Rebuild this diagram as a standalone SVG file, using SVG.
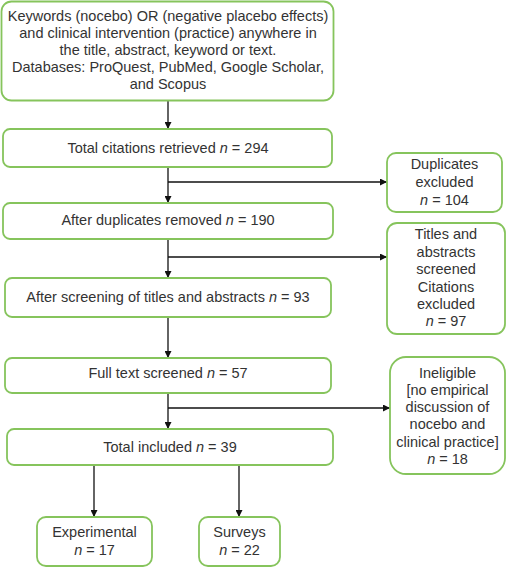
<svg xmlns="http://www.w3.org/2000/svg" width="506" height="568" viewBox="0 0 506 568">
<style>
.b{fill:#fff;stroke:#86c45c;stroke-width:1.8}
.t{font-family:"Liberation Sans",Arial,sans-serif;font-size:14.5px;fill:#333;text-anchor:middle}
.c{stroke:#111;stroke-width:1.3;fill:none;marker-end:url(#a)}
</style>
<defs><marker id="a" viewBox="0 0 10 10" refX="10" refY="5" markerWidth="7" markerHeight="7" orient="auto" markerUnits="userSpaceOnUse"><path d="M0,0L10,5L0,10z" fill="#111"/></marker></defs>
<rect width="506" height="568" fill="#fff"/>
<g id="connectors">
<path class="c" d="M168,100V129"/>
<path class="c" d="M168,167V203"/>
<path class="c" d="M168,182H387"/>
<path class="c" d="M168,239V278"/>
<path class="c" d="M168,257H387"/>
<path class="c" d="M168,317V358"/>
<path class="c" d="M168,393V429"/>
<path class="c" d="M168,408H390"/>
<path class="c" d="M94,465V517"/>
<path class="c" d="M239,465V517"/>
</g>
<g id="n1"><rect class="b" x="1.5" y="1.5" width="332" height="99" rx="10"/>
<text class="t"><tspan x="168" y="21">Keywords (nocebo) OR (negative placebo effects)</tspan><tspan x="168" y="38">and clinical intervention (practice) anywhere in</tspan><tspan x="168" y="55">the title, abstract, keyword or text.</tspan><tspan x="168" y="72">Databases: ProQuest, PubMed, Google Scholar,</tspan><tspan x="168" y="89">and Scopus</tspan></text></g>
<g id="n2"><rect class="b" x="3" y="129" width="329" height="38" rx="7"/>
<text class="t" x="168" y="153">Total citations retrieved <tspan font-style="italic">n</tspan> = 294</text></g>
<g id="n3"><rect class="b" x="387" y="153" width="115" height="59" rx="9"/>
<text class="t"><tspan x="444.5" y="169">Duplicates</tspan><tspan x="444.5" y="187">excluded</tspan><tspan x="444.5" y="205"><tspan font-style="italic">n</tspan> = 104</tspan></text></g>
<g id="n4"><rect class="b" x="3" y="203" width="330" height="36" rx="7"/>
<text class="t" x="168" y="225">After duplicates removed <tspan font-style="italic">n</tspan> = 190</text></g>
<g id="n5"><rect class="b" x="387" y="223" width="118" height="111" rx="10"/>
<text class="t"><tspan x="446" y="239">Titles and</tspan><tspan x="446" y="257">abstracts</tspan><tspan x="446" y="274">screened</tspan><tspan x="446" y="292">Citations</tspan><tspan x="446" y="309">excluded</tspan><tspan x="446" y="326"><tspan font-style="italic">n</tspan> = 97</tspan></text></g>
<g id="n6"><rect class="b" x="5" y="278" width="326" height="39" rx="7"/>
<text class="t" x="168" y="302">After screening of titles and abstracts <tspan font-style="italic">n</tspan> = 93</text></g>
<g id="n7"><rect class="b" x="5" y="358" width="326" height="35" rx="7"/>
<text class="t" x="168" y="378">Full text screened <tspan font-style="italic">n</tspan> = 57</text></g>
<g id="n8"><rect class="b" x="390" y="357" width="115" height="117" rx="16"/>
<text class="t"><tspan x="447.5" y="378">Ineligible</tspan><tspan x="447.5" y="395">[no empirical</tspan><tspan x="447.5" y="412">discussion of</tspan><tspan x="447.5" y="429">nocebo and</tspan><tspan x="447.5" y="447">clinical practice]</tspan><tspan x="447.5" y="464"><tspan font-style="italic">n</tspan> = 18</tspan></text></g>
<g id="n9"><rect class="b" x="7" y="429" width="326" height="36" rx="7"/>
<text class="t" x="170" y="452">Total included <tspan font-style="italic">n</tspan> = 39</text></g>
<g id="n10"><rect class="b" x="37" y="517" width="115" height="49" rx="9"/>
<text class="t"><tspan x="94.5" y="537">Experimental</tspan><tspan x="94.5" y="555"><tspan font-style="italic">n</tspan> = 17</tspan></text></g>
<g id="n11"><rect class="b" x="199" y="517" width="81" height="49" rx="9"/>
<text class="t"><tspan x="239.5" y="537">Surveys</tspan><tspan x="239.5" y="555"><tspan font-style="italic">n</tspan> = 22</tspan></text></g>
</svg>
